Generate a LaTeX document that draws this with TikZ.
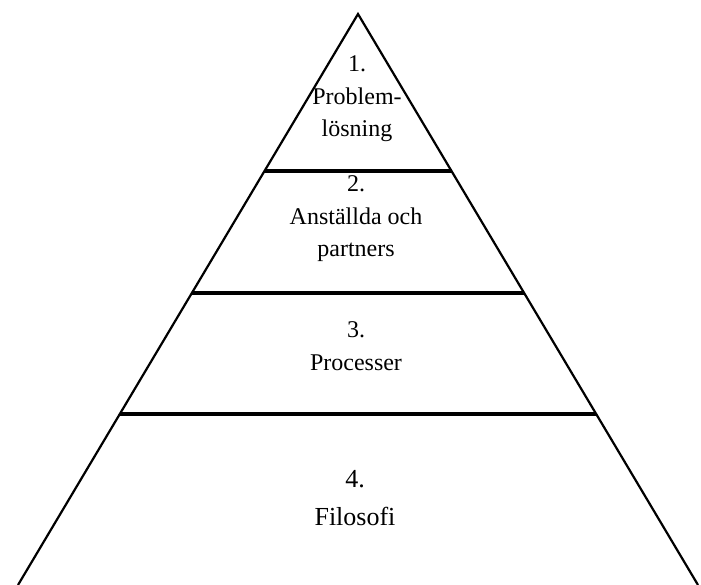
\documentclass[tikz,border=0pt]{standalone}
\usepackage{fontspec}
\setmainfont{Liberation Serif}
\usetikzlibrary{calc}

\begin{document}
\begin{tikzpicture}[x=1pt,y=-1pt,
  side/.style={line width=2.2pt},
  tier/.style={line width=3.2pt},
  tiertext/.style={align=center,anchor=base,inner sep=0pt,font=\fontsize{24}{32.5}\selectfont}]
  \useasboundingbox (0,0) rectangle (701,585);

  %pyramid
  \coordinate (apex) at (358,14);
  \coordinate (baseL) at (18,585);
  \coordinate (baseR) at (698,585);
  \draw[side] (baseL) -- (apex) -- (baseR);

  %tiers
  \foreach \t in {0.275,0.4886,0.7005}
    \draw[tier] ($(apex)!\t!(baseL)$) -- ($(apex)!\t!(baseR)$);

  %texts (placed by their last line)
  \node[tiertext] (lvlone) at (357,137) {1.\\Problem-\\lösning};
  \node[tiertext] (lvltwo) at (356,257) {2.\\Anställda och\\partners};
  \node[tiertext] (lvlthree) at (356,370) {3.\\Processer};
  \node[tiertext,font=\fontsize{26}{38}\selectfont] (lvlfour) at (355,525) {4.\\Filosofi};
\end{tikzpicture}
\end{document}
